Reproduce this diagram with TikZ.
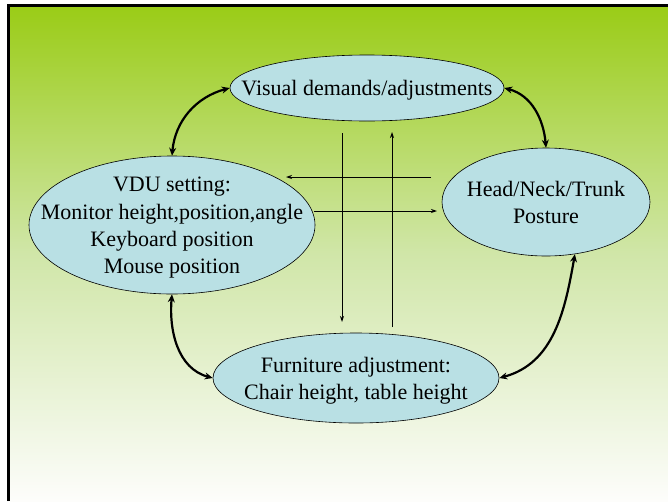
\documentclass[tikz,border=0pt]{standalone}
\usepackage{fontspec}
\setmainfont{Liberation Serif}
\usetikzlibrary{shapes.geometric,arrows.meta}
\definecolor{topg}{RGB}{154,204,22}
\definecolor{midg}{RGB}{208,230,168}
\definecolor{botg}{RGB}{253,253,251}
\definecolor{ellfill}{RGB}{185,224,228}
\newcommand\ovaltext[1]{\makebox[0pt]{\raisebox{-7.5pt}[0pt][0pt]{\begin{tabular}{@{}c@{}}#1\end{tabular}}}}
\tikzset{
  oval/.style={ellipse, draw=black, line width=0.6pt, fill=ellfill, inner sep=0pt,
    font=\fontsize{22}{27.2}\selectfont},
  thick arrow/.style={line width=2.2pt, {Stealth[length=8pt,width=7pt]}-{Stealth[length=8pt,width=7pt]}},
  thin arrow/.style={line width=0.9pt, -{Stealth[length=6pt,width=4pt]}},
}
\begin{document}
\begin{tikzpicture}[x=1pt,y=-1pt]
\useasboundingbox (0,0) rectangle (668,501);
\shade[top color=topg, bottom color=botg, middle color=midg] (8,5) rectangle (668,501);
\draw[line width=3pt] (8,501) -- (8,5.5) -- (668,5.5);

\node[oval, minimum width=274pt, minimum height=66pt] (vis) at (367,88) {\ovaltext{Visual demands/adjustments}};
\node[oval, minimum width=286pt, minimum height=138pt] (vdu) at (172,225) {\ovaltext{VDU setting:\\Monitor height,position,angle\\Keyboard position\\Mouse position}};
\node[oval, minimum width=208pt, minimum height=108pt] (head) at (546,202) {\ovaltext{Head/Neck/Trunk\\Posture}};
\node[oval, minimum width=286pt, minimum height=90pt] (furn) at (356,378) {\ovaltext{Furniture adjustment:\\Chair height, table height}};

\draw[thick arrow] (vis.west) to[out=195, in=85] (vdu.north);
\draw[thick arrow] (vis.east) to[out=-15, in=95] (head.north);
\draw[thick arrow] (vdu.south) to[out=-95, in=165] (furn.west);
\draw[thick arrow] (head.-61) to[out=-100, in=15] (furn.east);

\coordinate (hl1) at (431,177);
\coordinate (hl2) at (286,177);
\coordinate (hr1) at (314,211);
\coordinate (hr2) at (437,211);
\coordinate (vd1) at (342,133);
\coordinate (vd2) at (342,322);
\coordinate (vu1) at (392,327);
\coordinate (vu2) at (392,132);
\draw[thin arrow] (hl1) -- (hl2);
\draw[thin arrow] (hr1) -- (hr2);
\draw[thin arrow] (vd1) -- (vd2);
\draw[thin arrow] (vu1) -- (vu2);
\end{tikzpicture}
\end{document}
